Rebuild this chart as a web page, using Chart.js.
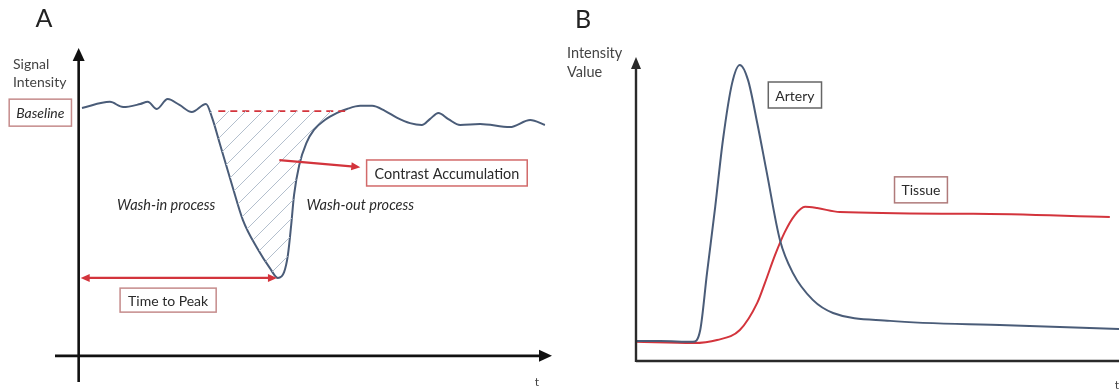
<!DOCTYPE html>
<html>
<head>
<meta charset="utf-8">
<script src="https://cdn.jsdelivr.net/npm/chart.js@4.4.1/dist/chart.umd.min.js"></script>
<style>
  body { margin: 0; background: #fff; }
  .panel { position: absolute; top: 0; }
  #panelA { left: 0; }
  #panelB { left: 560px; }
</style>
</head>
<body>
<div class="panel" id="panelA"><canvas id="curveA" width="560" height="389"></canvas></div>
<div class="panel" id="panelB"><canvas id="curveB" width="559" height="389"></canvas></div>
<script>
// Panel A: signal intensity over time with a bolus dip
const timeA = [0.7, 6.6, 9.4, 13.0, 14.6, 16.5, 18.8, 21.3, 23.9, 26.9,
               28.2, 29.9, 32.4, 34.7, 37.7, 40.4, 42.1, 43.4, 44.2, 44.9,
               45.5, 46.6, 48.1, 49.7, 52.0, 54.6, 56.7, 59.5, 62.0, 64.7,
               67.3, 70.0, 72.5, 74.2, 76.0, 78.1, 80.6, 84.8, 91.1, 95.4, 98.5];
const signalA = [80.5, 82.5, 80.8, 81.8, 82.5, 80.2, 83.4, 81.5, 79.2, 81.8,
                 77.3, 68.5, 55.5, 44.1, 35.0, 28.5, 25.3, 27.2, 32.7, 42.5,
                 52.2, 62.0, 69.1, 73.4, 76.6, 78.9, 80.2, 81.2, 81.2, 79.6,
                 77.3, 75.6, 75.0, 76.9, 78.9, 76.9, 75.0, 75.3, 74.3, 76.6, 75.0];
const baselineLevel = 79.5;
const baselineSpan = [29.5, 56.3];
const accumulationSpan = [26.9, 59.5];

// Panel B: arterial input vs tissue enhancement
const timeArtery = [0, 5, 11.8, 13.3, 14.7, 16.4, 18.0, 19.9, 21.5, 23.2,
                    25.1, 27.1, 29.8, 32.5, 36.6, 40.8, 52.6, 76.8, 100];
const artery = [6.6, 6.6, 6.3, 10.2, 28.9, 50.7, 72.7, 91.4, 97.4, 92.4,
                78.3, 61.8, 39.8, 28.9, 20.1, 15.8, 13.2, 11.8, 10.5];
const timeTissue = [0, 11.8, 16.8, 21.5, 25.1, 26.7, 28.8, 30.8, 32.9, 35.0, 37.5, 42.2, 69.8, 98.1];
const tissue = [6.3, 5.9, 6.9, 10.2, 19.1, 25.7, 34.9, 42.4, 48.0, 50.7, 50.3, 49.0, 48.4, 47.4];

const RED = '#d3343c';
const BLUE = '#4a5c78';
const FONT = 'Lato, "Open Sans", sans-serif';

const toPoints = (xs, ys) => xs.map((x, i) => ({ x, y: ys[i] }));

function hatchPattern() {
  const size = 17;
  const tile = document.createElement('canvas');
  tile.width = size; tile.height = size;
  const g = tile.getContext('2d');
  g.strokeStyle = '#b3bfcd';
  g.lineWidth = 1;
  g.beginPath();
  g.moveTo(0, size); g.lineTo(size, 0);
  g.moveTo(-size / 2, size / 2); g.lineTo(size / 2, -size / 2);
  g.moveTo(size / 2, size * 1.5); g.lineTo(size * 1.5, size / 2);
  g.stroke();
  return g.createPattern(tile, 'repeat');
}

function drawArrow(ctx, x1, y1, x2, y2, len, half, both) {
  const a = Math.atan2(y2 - y1, x2 - x1);
  const c = Math.cos(a), s = Math.sin(a);
  const head = (tx, ty, dc, ds) => {
    const bx = tx - dc * len, by = ty - ds * len;
    ctx.beginPath();
    ctx.moveTo(tx, ty);
    ctx.lineTo(bx - ds * half, by + dc * half);
    ctx.lineTo(bx + ds * half, by - dc * half);
    ctx.closePath();
    ctx.fill();
  };
  ctx.beginPath();
  ctx.moveTo(both ? x1 + c * len * 0.7 : x1, both ? y1 + s * len * 0.7 : y1);
  ctx.lineTo(x2 - c * len * 0.7, y2 - s * len * 0.7);
  ctx.stroke();
  head(x2, y2, c, s);
  if (both) head(x1, y1, -c, -s);
}

function boxLabel(ctx, text, cx, cy, font, border, padX, h) {
  ctx.font = font;
  const w = ctx.measureText(text).width + padX * 2;
  ctx.fillStyle = '#fff';
  ctx.fillRect(cx - w / 2, cy - h / 2, w, h);
  ctx.strokeStyle = border;
  ctx.lineWidth = 1.5;
  ctx.strokeRect(cx - w / 2, cy - h / 2, w, h);
  ctx.fillStyle = '#2a2a2a';
  ctx.textAlign = 'center';
  ctx.textBaseline = 'middle';
  ctx.fillText(text, cx, cy + 1);
}

function plainText(ctx, text, x, y, font, align, color) {
  ctx.font = font;
  ctx.fillStyle = color || '#2a2a2a';
  ctx.textAlign = align;
  ctx.textBaseline = 'middle';
  ctx.fillText(text, x, y);
}

function baseOptions(xMin, xMax, yMin, yMax, padding) {
  return {
    responsive: false,
    animation: false,
    layout: { padding },
    plugins: { legend: { display: false }, tooltip: { enabled: false } },
    elements: { point: { radius: 0 } },
    scales: {
      x: { type: 'linear', min: xMin, max: xMax, display: false },
      y: { type: 'linear', min: yMin, max: yMax, display: false }
    }
  };
}

// ---------- Panel A ----------
const curveA = toPoints(timeA, signalA);
const hatchA = curveA.filter(p => p.x >= accumulationSpan[0] && p.x <= accumulationSpan[1]);
const baselineA = baselineSpan.map(x => ({ x, y: baselineLevel }));
const troughIdx = signalA.indexOf(Math.min(...signalA));

const overlayA = {
  id: 'overlayA',
  afterDatasetsDraw(chart) {
    const { ctx, chartArea: area, scales: { x, y } } = chart;
    const px = v => x.getPixelForValue(v), py = v => y.getPixelForValue(v);
    ctx.save();

    // axes crossing at the origin
    ctx.strokeStyle = '#111'; ctx.fillStyle = '#111'; ctx.lineWidth = 2.6;
    drawArrow(ctx, px(0), area.bottom, px(0), area.top, 13, 6, false);
    drawArrow(ctx, area.left, py(0), area.right, py(0), 13, 6, false);

    // time to peak
    ctx.strokeStyle = RED; ctx.fillStyle = RED; ctx.lineWidth = 2.2;
    const ty = py(signalA[troughIdx]);
    drawArrow(ctx, px(0) + 2, ty, px(timeA[troughIdx]) - 1, ty, 9, 4, true);

    // contrast accumulation pointer
    drawArrow(ctx, px(42.4), py(63.6), px(59.5), py(61.3), 9, 4, false);

    plainText(ctx, 'A', 44, 19, `400 25px ${FONT}`, 'center', '#222');
    plainText(ctx, 'Signal', 13, 64, `14px ${FONT}`, 'left', '#444');
    plainText(ctx, 'Intensity', 13, 82, `14px ${FONT}`, 'left', '#444');
    plainText(ctx, 't', 537, 382, `12px ${FONT}`, 'center', '#444');

    boxLabel(ctx, 'Baseline', px(-8.1), py(79.0), `italic 14px ${FONT}`, '#c58b8b', 7, 27);
    boxLabel(ctx, 'Contrast Accumulation', px(77.8), py(59.4), `14.4px ${FONT}`, '#d26a6a', 8, 26);
    boxLabel(ctx, 'Time to Peak', px(18.9), py(18.1), `14px ${FONT}`, '#c58b8b', 8, 24);

    plainText(ctx, 'Wash-in process', px(18.5), py(49), `italic 14.5px ${FONT}`, 'center');
    plainText(ctx, 'Wash-out process', px(59.5), py(49), `italic 14.5px ${FONT}`, 'center');
    ctx.restore();
  }
};

new Chart(document.getElementById('curveA'), {
  type: 'line',
  data: {
    datasets: [
      {
        data: hatchA,
        borderWidth: 0,
        cubicInterpolationMode: 'monotone',
        fill: { target: { value: baselineLevel }, above: 'rgba(0,0,0,0)', below: hatchPattern() }
      },
      {
        data: baselineA,
        borderColor: RED,
        borderWidth: 1.6,
        borderDash: [7, 5],
        fill: false
      },
      {
        data: curveA,
        borderColor: BLUE,
        borderWidth: 2,
        cubicInterpolationMode: 'monotone',
        fill: false
      }
    ]
  },
  options: baseOptions(-5, 100, -8.5, 100, { left: 55, right: 8, top: 48, bottom: 7 }),
  plugins: [overlayA]
});

// ---------- Panel B ----------
const overlayB = {
  id: 'overlayB',
  afterDatasetsDraw(chart) {
    const { ctx, chartArea: area, scales: { x, y } } = chart;
    const px = v => x.getPixelForValue(v), py = v => y.getPixelForValue(v);
    ctx.save();

    ctx.strokeStyle = '#2a2a2a'; ctx.fillStyle = '#2a2a2a'; ctx.lineWidth = 2.4;
    ctx.beginPath();
    ctx.moveTo(px(0), py(0));
    ctx.lineTo(area.right, py(0));
    ctx.stroke();
    drawArrow(ctx, px(0), py(0) + 1, px(0), area.top, 12, 5, false);

    plainText(ctx, 'B', 23, 20, `400 25px ${FONT}`, 'center', '#222');
    plainText(ctx, 'Intensity', 7, 53, `14.5px ${FONT}`, 'left', '#444');
    plainText(ctx, 'Value', 7, 72, `14.5px ${FONT}`, 'left', '#444');
    plainText(ctx, 't', 557, 385, `12px ${FONT}`, 'center', '#444');

    boxLabel(ctx, 'Artery', px(32.9), py(87.5), `14px ${FONT}`, '#666', 7, 26);
    boxLabel(ctx, 'Tissue', px(59), py(56.3), `14px ${FONT}`, '#b07a7a', 7, 26);
    ctx.restore();
  }
};

new Chart(document.getElementById('curveB'), {
  type: 'line',
  data: {
    datasets: [
      {
        label: 'Artery',
        data: toPoints(timeArtery, artery),
        borderColor: BLUE,
        borderWidth: 2,
        cubicInterpolationMode: 'monotone',
        fill: false
      },
      {
        label: 'Tissue',
        data: toPoints(timeTissue, tissue),
        borderColor: RED,
        borderWidth: 2,
        cubicInterpolationMode: 'monotone',
        fill: false
      }
    ]
  },
  options: baseOptions(0, 100, 0, 100, { left: 76, right: 0, top: 57, bottom: 28 }),
  plugins: [overlayB]
});
</script>
</body>
</html>
